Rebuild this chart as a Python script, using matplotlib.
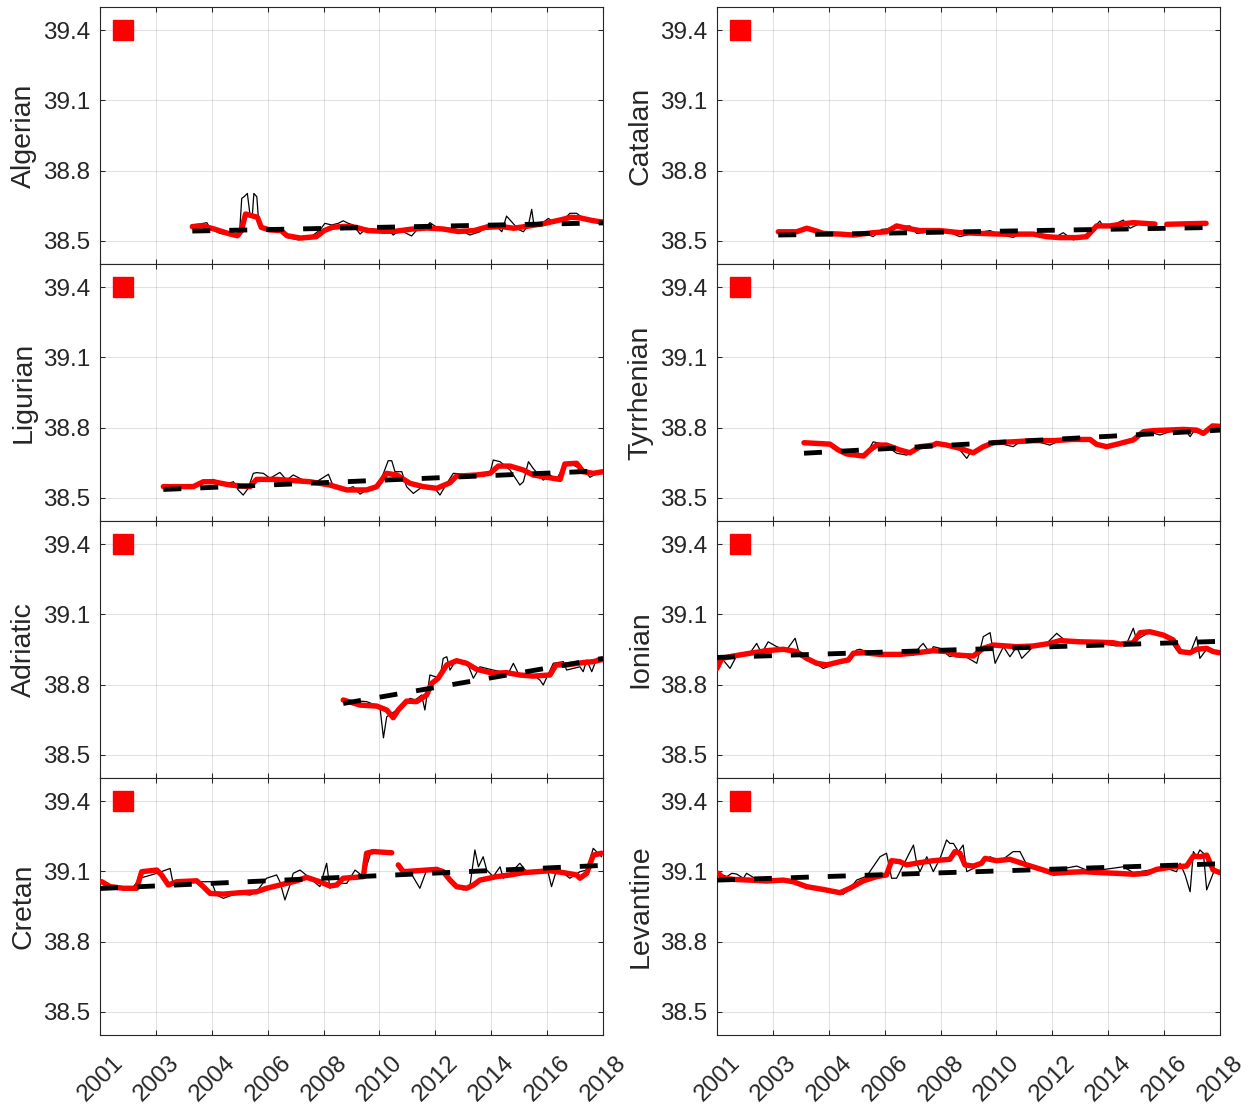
import numpy as np
import matplotlib
matplotlib.use('Agg')
import matplotlib.pyplot as plt
from matplotlib.transforms import ScaledTranslation

plt.rcParams['font.family'] = ['Liberation Sans', 'DejaVu Sans']

# axis settings
year_labels = ['2001', '2003', '2004', '2006', '2008', '2010', '2012', '2014', '2016', '2018']
x_start, x_end = 2001.0, 2018.0
y_ticks = [38.5, 38.8, 39.1, 39.4]
y_lim = (38.4, 39.5)

# ---- Algerian ----
algerian_raw = [(2004.10, 38.567), (2004.38, 38.571), (2004.61, 38.577), (2004.72, 38.553), (2005.05, 38.531),
                (2005.39, 38.524), (2005.62, 38.531), (2005.71, 38.520), (2005.79, 38.681), (2005.87, 38.688),
                (2005.98, 38.702), (2006.07, 38.610), (2006.15, 38.610), (2006.20, 38.702), (2006.30, 38.688),
                (2006.35, 38.602), (2006.46, 38.553), (2006.58, 38.545), (2006.80, 38.553), (2007.14, 38.548),
                (2007.31, 38.514), (2007.70, 38.503), (2008.10, 38.514), (2008.43, 38.545), (2008.60, 38.574),
                (2008.83, 38.567), (2009.05, 38.574), (2009.22, 38.585), (2009.39, 38.574), (2009.56, 38.567),
                (2009.79, 38.528), (2010.01, 38.553), (2010.46, 38.545), (2010.80, 38.538), (2010.91, 38.524),
                (2011.14, 38.545), (2011.36, 38.531), (2011.53, 38.520), (2011.76, 38.553), (2012.04, 38.560),
                (2012.15, 38.577), (2012.38, 38.557), (2012.83, 38.553), (2013.17, 38.545), (2013.50, 38.524),
                (2013.84, 38.538), (2014.07, 38.567), (2014.41, 38.560), (2014.58, 38.538), (2014.74, 38.605),
                (2014.91, 38.581), (2015.14, 38.548), (2015.31, 38.538), (2015.48, 38.567), (2015.59, 38.634),
                (2015.67, 38.563), (2015.87, 38.567), (2016.15, 38.595), (2016.32, 38.581), (2016.66, 38.588),
                (2016.88, 38.617), (2017.11, 38.617), (2017.34, 38.595), (2017.56, 38.588), (2017.79, 38.581),
                (2018.00, 38.588)]
algerian_smooth = [(2004.12, 38.560), (2004.45, 38.564), (2004.85, 38.550), (2005.38, 38.529), (2005.65, 38.521),
                   (2005.78, 38.543), (2005.92, 38.614), (2006.12, 38.607), (2006.32, 38.600), (2006.45, 38.557),
                   (2006.72, 38.546), (2007.12, 38.543), (2007.32, 38.521), (2007.78, 38.511), (2008.31, 38.517),
                   (2008.58, 38.543), (2008.85, 38.557), (2009.25, 38.561), (2009.65, 38.557), (2010.05, 38.543),
                   (2010.58, 38.540), (2010.98, 38.540), (2011.51, 38.549), (2012.04, 38.554), (2012.58, 38.550),
                   (2013.11, 38.539), (2013.64, 38.543), (2014.04, 38.557), (2014.58, 38.560), (2014.98, 38.553),
                   (2015.51, 38.563), (2016.04, 38.574), (2016.57, 38.589), (2016.91, 38.600), (2017.24, 38.597),
                   (2017.64, 38.586), (2018.00, 38.579)]
algerian_trend = [(2004.12, 38.541), (2018.00, 38.576)]

# ---- Catalan ----
catalan_raw = [(2003.07, 38.543), (2003.47, 38.534), (2003.81, 38.546), (2004.14, 38.557), (2004.31, 38.548),
               (2004.59, 38.528), (2005.16, 38.525), (2005.61, 38.521), (2006.06, 38.528), (2006.28, 38.517),
               (2006.57, 38.548), (2006.73, 38.550), (2006.96, 38.557), (2007.18, 38.560), (2007.52, 38.563),
               (2007.75, 38.531), (2007.97, 38.534), (2008.31, 38.543), (2008.76, 38.540), (2009.21, 38.517),
               (2009.66, 38.531), (2010.23, 38.543), (2010.56, 38.525), (2011.01, 38.514), (2011.35, 38.534),
               (2011.80, 38.524), (2012.37, 38.510), (2012.70, 38.534), (2013.04, 38.503), (2013.38, 38.517),
               (2013.72, 38.553), (2013.94, 38.584), (2014.06, 38.560), (2014.39, 38.567), (2014.73, 38.588),
               (2014.96, 38.553), (2015.30, 38.574), (2015.75, 38.574), (2015.98, np.nan), (2016.20, 38.568),
               (2016.76, 38.574), (2017.53, 38.574)]
catalan_smooth = [(2003.07, 38.538), (2003.69, 38.538), (2004.03, 38.553), (2004.31, 38.543), (2004.59, 38.531),
                  (2005.16, 38.528), (2005.61, 38.524), (2006.28, 38.534), (2006.73, 38.538), (2007.07, 38.563),
                  (2007.41, 38.553), (2007.86, 38.543), (2008.54, 38.543), (2009.21, 38.534), (2009.89, 38.531),
                  (2010.56, 38.528), (2011.13, 38.528), (2011.69, 38.528), (2012.14, 38.517), (2012.59, 38.513),
                  (2013.16, 38.513), (2013.49, 38.517), (2013.83, 38.563), (2014.28, 38.563), (2014.85, 38.574),
                  (2015.07, 38.577), (2015.80, 38.571), (2015.98, np.nan), (2016.20, 38.570), (2017.53, 38.574)]
catalan_trend = [(2003.07, 38.524), (2017.60, 38.556)]

# ---- Ligurian ----
ligurian_raw = [(2003.14, 38.554), (2003.59, 38.550), (2004.04, 38.547), (2004.49, 38.572), (2004.83, 38.578),
                (2005.17, 38.554), (2005.51, 38.568), (2005.67, 38.533), (2005.84, 38.511), (2006.01, 38.540),
                (2006.18, 38.604), (2006.29, 38.607), (2006.52, 38.604), (2006.75, 38.583), (2007.08, 38.608),
                (2007.31, 38.575), (2007.53, 38.597), (2007.87, 38.575), (2008.32, 38.568), (2008.72, 38.600),
                (2008.89, 38.547), (2009.22, 38.533), (2009.56, 38.547), (2009.79, 38.515), (2010.01, 38.533),
                (2010.35, 38.547), (2010.58, 38.604), (2010.74, 38.658), (2010.86, 38.658), (2010.97, 38.611),
                (2011.20, 38.611), (2011.36, 38.547), (2011.59, 38.518), (2011.93, 38.550), (2012.27, 38.547),
                (2012.49, 38.511), (2012.72, 38.561), (2012.94, 38.604), (2013.28, 38.601), (2013.73, 38.597),
                (2013.95, 38.590), (2014.18, 38.604), (2014.29, 38.661), (2014.52, 38.654), (2014.86, 38.618),
                (2015.19, 38.554), (2015.31, 38.568), (2015.48, 38.654), (2015.64, 38.625), (2015.98, 38.575),
                (2016.21, 38.597), (2016.43, 38.578), (2016.66, 38.632), (2016.88, 38.647), (2017.22, 38.625),
                (2017.45, 38.604), (2017.56, 38.587), (2017.79, 38.604), (2018.00, 38.604)]
ligurian_smooth = [(2003.14, 38.547), (2004.15, 38.547), (2004.49, 38.568), (2004.83, 38.568), (2005.39, 38.554),
                   (2006.07, 38.547), (2006.29, 38.578), (2006.97, 38.578), (2007.65, 38.572), (2008.10, 38.568),
                   (2008.77, 38.554), (2009.34, 38.533), (2010.01, 38.533), (2010.35, 38.547), (2010.69, 38.604),
                   (2011.03, 38.597), (2011.48, 38.561), (2011.93, 38.547), (2012.38, 38.540), (2012.83, 38.564),
                   (2013.05, 38.592), (2013.73, 38.597), (2014.18, 38.604), (2014.46, 38.635), (2014.86, 38.635),
                   (2015.31, 38.618), (2015.64, 38.597), (2016.10, 38.587), (2016.55, 38.578), (2016.71, 38.644),
                   (2017.11, 38.647), (2017.33, 38.611), (2017.67, 38.604), (2018.00, 38.611)]
ligurian_trend = [(2003.14, 38.535), (2018.00, 38.615)]

# ---- Tyrrhenian ----
tyrrhenian_raw = [(2003.94, 38.739), (2004.71, 38.732), (2005.16, 38.697), (2005.61, 38.682), (2006.06, 38.690),
                  (2006.28, 38.739), (2006.51, 38.732), (2006.73, 38.721), (2007.07, 38.690), (2007.41, 38.682),
                  (2007.75, 38.711), (2008.31, 38.721), (2008.76, 38.732), (2009.21, 38.704), (2009.44, 38.668),
                  (2009.55, 38.690), (2009.78, 38.704), (2010.11, 38.725), (2010.56, 38.732), (2011.01, 38.718),
                  (2011.24, 38.739), (2011.69, 38.744), (2012.25, 38.725), (2012.59, 38.744), (2013.04, 38.747),
                  (2013.72, 38.739), (2014.17, 38.715), (2014.39, 38.718), (2014.85, 38.739), (2015.18, 38.749),
                  (2015.41, 38.789), (2015.97, 38.768), (2016.42, 38.787), (2016.87, 38.782), (2016.99, 38.761),
                  (2017.10, 38.782), (2017.44, 38.775), (2017.75, 38.804), (2018.00, 38.800)]
tyrrhenian_smooth = [(2003.94, 38.735), (2004.82, 38.729), (2005.10, 38.704), (2005.38, 38.687), (2005.95, 38.678),
                     (2006.17, 38.704), (2006.40, 38.725), (2006.73, 38.725), (2007.18, 38.704), (2007.52, 38.692),
                     (2007.86, 38.718), (2008.31, 38.725), (2008.42, 38.732), (2008.76, 38.725), (2009.21, 38.711),
                     (2009.66, 38.692), (2010.00, 38.718), (2010.34, 38.735), (2011.01, 38.739), (2011.69, 38.744),
                     (2012.37, 38.744), (2013.04, 38.749), (2013.61, 38.749), (2013.83, 38.728), (2014.17, 38.718),
                     (2014.62, 38.732), (2015.07, 38.747), (2015.41, 38.782), (2015.75, 38.787), (2016.20, 38.789),
                     (2016.76, 38.792), (2017.21, 38.789), (2017.44, 38.775), (2017.75, 38.807), (2018.00, 38.805)]
tyrrhenian_trend = [(2003.94, 38.690), (2018.00, 38.789)]

# ---- Adriatic ----
adriatic_raw = [(2009.22, 38.734), (2010.01, 38.727), (2010.46, 38.705), (2010.58, 38.572), (2010.69, 38.662),
                (2011.03, 38.691), (2011.48, 38.741), (2011.65, 38.734), (2011.87, 38.755), (2011.98, 38.691),
                (2012.15, 38.841), (2012.49, 38.827), (2012.60, 38.912), (2012.72, 38.919), (2012.83, 38.862),
                (2013.05, 38.908), (2013.39, 38.898), (2013.62, 38.827), (2013.84, 38.876), (2014.29, 38.862),
                (2014.80, 38.848), (2014.97, 38.891), (2015.19, 38.834), (2015.64, 38.841), (2015.87, 38.819),
                (2015.98, 38.798), (2016.32, 38.891), (2016.66, 38.898), (2016.77, 38.862), (2017.22, 38.876),
                (2017.33, 38.855), (2017.45, 38.905), (2017.62, 38.855), (2017.79, 38.912), (2018.00, 38.898)]
adriatic_smooth = [(2009.22, 38.734), (2009.79, 38.712), (2010.35, 38.708), (2010.69, 38.691), (2010.91, 38.658),
                   (2011.08, 38.691), (2011.36, 38.729), (2011.70, 38.727), (2012.04, 38.755), (2012.21, 38.805),
                   (2012.43, 38.827), (2012.72, 38.884), (2013.05, 38.902), (2013.39, 38.891), (2013.73, 38.865),
                   (2014.29, 38.848), (2014.74, 38.851), (2015.19, 38.841), (2015.64, 38.836), (2016.21, 38.841),
                   (2016.41, 38.884), (2016.77, 38.884), (2017.33, 38.894), (2017.67, 38.898), (2018.00, 38.908)]
adriatic_trend = [(2009.22, 38.719), (2018.00, 38.912)]

# ---- Ionian ----
ionian_raw = [(2001.00, 38.876), (2001.21, 38.905), (2001.44, 38.869), (2001.66, 38.922), (2002.12, 38.936),
              (2002.34, 38.976), (2002.51, 38.934), (2002.73, 38.983), (2003.02, 38.962), (2003.35, 38.948),
              (2003.64, 38.998), (2003.81, 38.919), (2004.14, 38.908), (2004.59, 38.869), (2005.04, 38.891),
              (2005.38, 38.905), (2005.72, 38.948), (2005.83, 38.951), (2006.28, 38.931), (2006.96, 38.934),
              (2007.64, 38.926), (2007.86, 38.962), (2007.97, 38.976), (2008.20, 38.934), (2008.31, 38.962),
              (2008.54, 38.955), (2008.87, 38.919), (2009.21, 38.934), (2009.78, 38.891), (2010.00, 39.005),
              (2010.23, 39.022), (2010.40, 38.891), (2010.68, 38.962), (2010.90, 38.919), (2011.13, 38.962),
              (2011.30, 38.912), (2011.69, 38.962), (2012.14, 38.976), (2012.48, 39.019), (2012.82, 38.983),
              (2013.38, 38.983), (2013.94, 38.976), (2014.51, 38.965), (2014.85, 38.976), (2015.07, 39.041),
              (2015.18, 38.991), (2015.63, 39.026), (2016.20, 39.012), (2016.53, 38.948), (2016.99, 38.934),
              (2017.21, 39.005), (2017.32, 38.912), (2017.55, 38.951), (2017.77, 38.948), (2018.00, 38.936)]
ionian_smooth = [(2001.00, 38.869), (2001.16, 38.912), (2001.55, 38.922), (2002.12, 38.934), (2002.68, 38.945),
                 (2003.24, 38.951), (2003.69, 38.941), (2004.03, 38.912), (2004.37, 38.891), (2004.71, 38.884),
                 (2005.16, 38.898), (2005.44, 38.905), (2005.61, 38.934), (2005.95, 38.936), (2006.51, 38.929),
                 (2007.18, 38.929), (2007.75, 38.936), (2008.31, 38.945), (2008.76, 38.941), (2009.10, 38.926),
                 (2009.66, 38.922), (2010.00, 38.955), (2010.34, 38.969), (2011.13, 38.962), (2011.69, 38.965),
                 (2012.25, 38.976), (2012.59, 38.988), (2013.27, 38.983), (2013.94, 38.981), (2014.39, 38.979),
                 (2014.62, 38.973), (2015.07, 38.979), (2015.30, 39.022), (2015.63, 39.026), (2016.08, 39.012),
                 (2016.42, 38.991), (2016.65, 38.941), (2016.99, 38.936), (2017.21, 38.951), (2017.55, 38.955),
                 (2017.77, 38.941), (2018.00, 38.936)]
ionian_trend = [(2001.00, 38.916), (2018.00, 38.985)]

# ---- Cretan ----
cretan_raw = [(2001.06, 39.063), (2001.34, 39.042), (2001.79, 39.028), (2002.13, 39.035), (2002.35, 39.071),
              (2002.92, 39.092), (2003.37, 39.113), (2003.48, 39.042), (2003.59, 39.038), (2004.04, 39.056),
              (2004.38, 39.056), (2004.77, 39.056), (2004.94, 38.999), (2005.17, 38.985), (2005.62, 39.006),
              (2006.07, 38.999), (2006.29, 39.013), (2006.63, 39.071), (2006.97, 39.085), (2007.08, 39.056),
              (2007.25, 38.978), (2007.42, 39.042), (2007.53, 39.092), (2007.76, 39.106), (2008.10, 39.071),
              (2008.43, 39.035), (2008.66, 39.135), (2008.77, 39.028), (2009.00, 39.049), (2009.34, 39.049),
              (2009.62, 39.106), (2009.90, 39.078), (2010.18, 39.192), (2010.46, 39.185), (2010.86, 39.182),
              (2010.97, np.nan), (2011.14, 39.106), (2011.48, 39.099), (2011.81, 39.028), (2012.04, 39.106),
              (2012.38, 39.109), (2012.60, 39.106), (2012.94, 39.049), (2013.28, 39.021), (2013.50, 39.035),
              (2013.67, 39.192), (2013.79, 39.120), (2013.95, 39.163), (2014.07, 39.106), (2014.29, 39.078),
              (2014.52, 39.120), (2014.63, 39.071), (2014.86, 39.092), (2015.19, 39.135), (2015.42, 39.099),
              (2015.76, 39.092), (2016.10, 39.120), (2016.26, 39.035), (2016.43, 39.106), (2016.66, 39.092),
              (2016.88, 39.071), (2017.22, 39.099), (2017.45, 39.106), (2017.67, 39.199), (2017.95, 39.163)]
cretan_smooth = [(2001.06, 39.056), (2001.34, 39.035), (2001.79, 39.028), (2002.24, 39.028), (2002.41, 39.099),
                 (2002.92, 39.106), (2003.08, 39.085), (2003.31, 39.042), (2003.59, 39.056), (2004.27, 39.060),
                 (2004.49, 39.035), (2004.72, 39.006), (2005.17, 39.003), (2005.73, 39.009), (2006.29, 39.013),
                 (2006.63, 39.028), (2007.08, 39.042), (2007.65, 39.060), (2007.98, 39.075), (2008.43, 39.056),
                 (2008.77, 39.038), (2009.00, 39.042), (2009.22, 39.071), (2009.67, 39.075), (2009.90, 39.078),
                 (2010.01, 39.178), (2010.24, 39.185), (2010.86, 39.180), (2010.97, np.nan), (2011.08, 39.128),
                 (2011.25, 39.099), (2011.70, 39.103), (2012.38, 39.109), (2012.60, 39.099), (2012.83, 39.063),
                 (2013.05, 39.035), (2013.39, 39.028), (2013.62, 39.042), (2013.84, 39.063), (2014.41, 39.078),
                 (2014.86, 39.085), (2015.31, 39.095), (2015.76, 39.099), (2016.21, 39.103), (2016.66, 39.095),
                 (2017.11, 39.085), (2017.22, 39.071), (2017.45, 39.092), (2017.67, 39.170), (2017.95, 39.178)]
cretan_trend = [(2001.00, 39.027), (2018.00, 39.126)]

# ---- Levantine ----
levantine_raw = [(2001.05, 39.092), (2001.33, 39.078), (2001.50, 39.092), (2001.66, 39.089), (2001.89, 39.071),
                 (2002.00, 39.092), (2002.34, 39.066), (2002.90, 39.056), (2003.35, 39.066), (2003.81, 39.042),
                 (2004.03, 39.028), (2004.71, 39.021), (2005.27, 39.003), (2005.49, 39.028), (2005.72, 39.063),
                 (2006.06, 39.080), (2006.51, 39.163), (2006.73, 39.178), (2006.90, 39.071), (2007.07, 39.071),
                 (2007.30, 39.128), (2007.64, 39.213), (2007.75, 39.135), (2007.86, 39.099), (2008.09, 39.163),
                 (2008.31, 39.099), (2008.54, 39.156), (2008.76, 39.235), (2008.87, 39.220), (2008.99, 39.220),
                 (2009.16, 39.185), (2009.32, 39.213), (2009.44, 39.099), (2009.78, 39.120), (2010.23, 39.163),
                 (2010.56, 39.142), (2011.01, 39.185), (2011.24, 39.185), (2011.47, 39.128), (2012.14, 39.099),
                 (2013.16, 39.123), (2013.49, 39.106), (2013.94, 39.106), (2014.73, 39.120), (2015.07, 39.095),
                 (2015.63, 39.106), (2016.20, 39.113), (2016.53, 39.099), (2016.65, 39.135), (2016.82, 39.085),
                 (2016.99, 39.013), (2017.10, 39.185), (2017.21, 39.163), (2017.32, 39.192), (2017.44, 39.178),
                 (2017.55, 39.021), (2017.77, 39.092)]
levantine_smooth = [(2001.05, 39.092), (2001.21, 39.071), (2001.55, 39.066), (2002.12, 39.063), (2002.68, 39.059),
                    (2003.24, 39.063), (2003.58, 39.056), (2004.03, 39.035), (2004.59, 39.023), (2005.16, 39.009),
                    (2005.49, 39.028), (2005.95, 39.060), (2006.40, 39.078), (2006.73, 39.085), (2006.90, 39.146),
                    (2007.18, 39.142), (2007.41, 39.128), (2007.86, 39.138), (2008.31, 39.146), (2008.87, 39.152),
                    (2009.04, 39.185), (2009.21, 39.178), (2009.38, 39.128), (2009.66, 39.123), (2009.94, 39.135),
                    (2010.06, 39.156), (2010.45, 39.146), (2010.90, 39.152), (2011.47, 39.128), (2012.03, 39.106),
                    (2012.37, 39.092), (2012.82, 39.096), (2013.38, 39.099), (2013.94, 39.095), (2014.51, 39.092),
                    (2015.07, 39.088), (2015.52, 39.092), (2015.86, 39.109), (2016.42, 39.120), (2016.87, 39.123),
                    (2017.10, 39.166), (2017.32, 39.163), (2017.55, 39.170), (2017.77, 39.106), (2018.00, 39.095)]
levantine_trend = [(2001.00, 39.063), (2018.00, 39.133)]

panels = [
    ('Algerian', algerian_raw, algerian_smooth, algerian_trend),
    ('Catalan', catalan_raw, catalan_smooth, catalan_trend),
    ('Ligurian', ligurian_raw, ligurian_smooth, ligurian_trend),
    ('Tyrrhenian', tyrrhenian_raw, tyrrhenian_smooth, tyrrhenian_trend),
    ('Adriatic', adriatic_raw, adriatic_smooth, adriatic_trend),
    ('Ionian', ionian_raw, ionian_smooth, ionian_trend),
    ('Cretan', cretan_raw, cretan_smooth, cretan_trend),
    ('Levantine', levantine_raw, levantine_smooth, levantine_trend),
]

W, H = 1256, 1106
axcol = '#262626'
red = '#ff0000'
fig = plt.figure(figsize=(W / 100, H / 100), dpi=100)

for k, (name, raw, smooth, trend) in enumerate(panels):
    row, col = k // 2, k % 2
    left = (100 if col == 0 else 717) / W
    bottom = 1 - (7 + 257 * (row + 1)) / H
    ax = fig.add_axes([left, bottom, 503 / W, 257 / H])

    rx, ry = np.array(raw).T
    ax.plot(rx, ry, color='k', lw=0.9, zorder=2)
    sx, sy = np.array(smooth).T
    ax.plot(sx, sy, color=red, lw=3.9, zorder=3, solid_capstyle='round', solid_joinstyle='round')
    tx, ty = np.array(trend).T
    ax.plot(tx, ty, color='k', lw=3.5, dashes=(3.7, 3.9), dash_capstyle='butt', zorder=4)
    # red square key
    ax.plot([0.045], [0.909], 's', color=red, ms=15, mec=red, transform=ax.transAxes, zorder=5)

    ax.set_xlim(x_start, x_end)
    ax.set_ylim(*y_lim)
    ax.set_yticks(y_ticks)
    ax.set_yticklabels([f'{v:.1f}' for v in y_ticks])
    ax.set_xticks(np.linspace(x_start, x_end, len(year_labels)))
    ax.grid(True, color=axcol, alpha=0.13, lw=0.8)
    ax.set_axisbelow(True)
    ax.tick_params(direction='in', top=True, right=True, length=3.6, width=0.75,
                   color=axcol, labelcolor=axcol, labelsize=17.5)
    ax.tick_params(axis='y', pad=7)
    for s in ax.spines.values():
        s.set_color(axcol)
        s.set_linewidth(0.8)

    if row == 3:
        ax.set_xticklabels(year_labels, rotation=45, ha='right', va='top', rotation_mode='anchor')
        ax.tick_params(axis='x', pad=12)
        shift = ScaledTranslation(12 / 100, 0, fig.dpi_scale_trans)
        for lab in ax.get_xticklabels():
            lab.set_transform(lab.get_transform() + shift)
    else:
        ax.set_xticklabels([])

    ax.set_ylabel(name, fontsize=20.5, color=axcol)
    ax.yaxis.set_label_coords(-0.126, 0.5)

fig.savefig('out.png', dpi=100)
